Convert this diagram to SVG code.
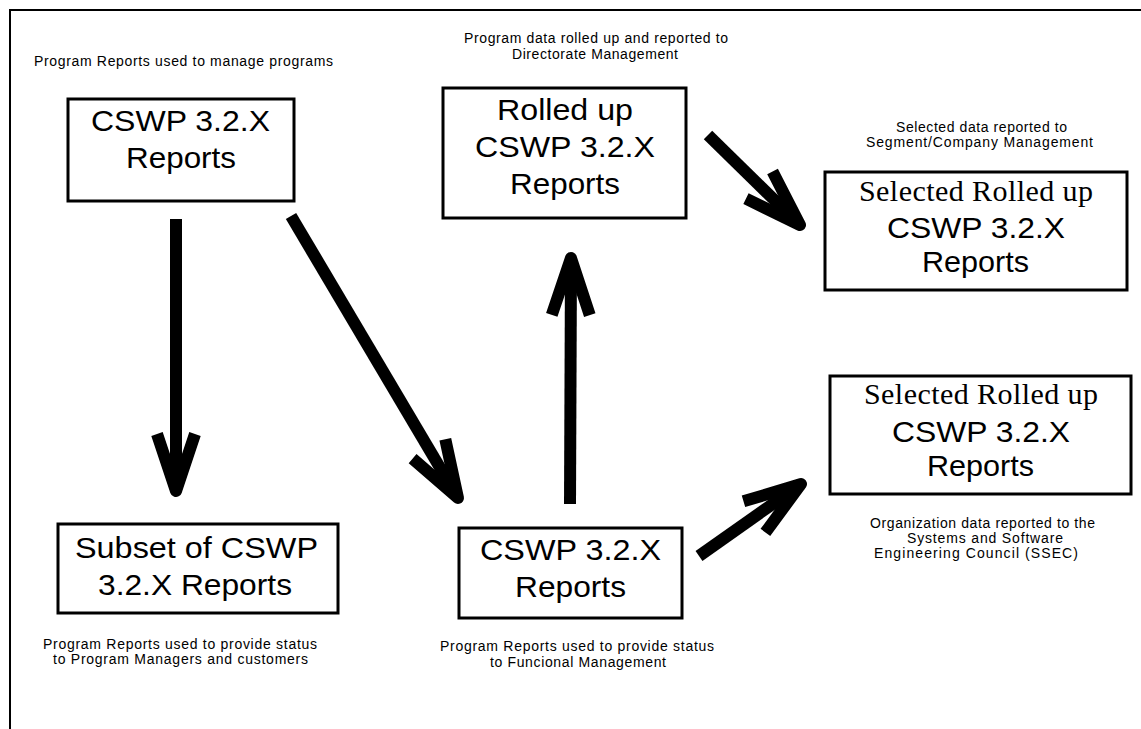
<svg xmlns="http://www.w3.org/2000/svg" width="1141" height="729" viewBox="0 0 1141 729">
<style>
.box{fill:#fff;stroke:#000;stroke-width:3}
.big{font-family:"Liberation Sans",Arial,sans-serif;font-size:30px;fill:#000}
.ser{font-family:"Liberation Serif","Times New Roman",serif;font-size:30px;fill:#000}
.lbl{font-family:"Liberation Sans",Arial,sans-serif;font-size:14px;fill:#000}
.arr{stroke:#000;stroke-width:12;fill:none;marker-end:url(#ah)}
.frame{stroke:#000;stroke-width:2;fill:none}
</style>
<defs>
<marker id="ah" markerUnits="userSpaceOnUse" orient="auto" refX="0" refY="0" markerWidth="80" markerHeight="80" viewBox="-70 -40 80 80" overflow="visible">
<path d="M-57,-19 L0,0 L-57,19" fill="none" stroke="#000" stroke-width="12" stroke-linejoin="round"/>
</marker>
</defs>
<rect width="1141" height="729" fill="#fff"/>
<path class="frame" d="M10,729 L10,10 L1141,10"/>

<g id="connectors">
<line class="arr" x1="176" y1="219" x2="176" y2="491"/>
<line class="arr" x1="291" y1="216" x2="458" y2="498"/>
<line class="arr" x1="570" y1="504" x2="571" y2="258"/>
<line class="arr" x1="708" y1="135" x2="800" y2="225"/>
<line class="arr" x1="699" y1="556" x2="801" y2="484"/>
</g>

<g id="labels">
<text class="lbl" x="34" y="66" textLength="299" lengthAdjust="spacing">Program Reports used to manage programs</text>
<text class="lbl" x="464" y="43" textLength="264" lengthAdjust="spacing">Program data rolled up and reported to</text>
<text class="lbl" x="512" y="59" textLength="166" lengthAdjust="spacing">Directorate Management</text>
<text class="lbl" x="896" y="132" textLength="171" lengthAdjust="spacing">Selected data reported to</text>
<text class="lbl" x="866" y="147" textLength="227" lengthAdjust="spacing">Segment/Company Management</text>
<text class="lbl" x="43" y="649" textLength="274" lengthAdjust="spacing">Program Reports used to provide status</text>
<text class="lbl" x="53" y="664" textLength="255" lengthAdjust="spacing">to Program Managers and customers</text>
<text class="lbl" x="440" y="651" textLength="274" lengthAdjust="spacing">Program Reports used to provide status</text>
<text class="lbl" x="490" y="667" textLength="176" lengthAdjust="spacing">to Funcional Management</text>
<text class="lbl" x="870" y="528" textLength="225" lengthAdjust="spacing">Organization data reported to the</text>
<text class="lbl" x="907" y="543" textLength="156" lengthAdjust="spacing">Systems and Software</text>
<text class="lbl" x="874" y="558" textLength="204" lengthAdjust="spacing">Engineering Council (SSEC)</text>
</g>

<g id="node-cswp-program">
<rect class="box" x="68" y="99" width="226" height="102"/>
<text class="big" x="91" y="131" textLength="179" lengthAdjust="spacingAndGlyphs">CSWP 3.2.X</text>
<text class="big" x="126" y="168" textLength="110" lengthAdjust="spacingAndGlyphs">Reports</text>
</g>

<g id="node-rolled-up">
<rect class="box" x="443" y="88" width="243" height="130"/>
<text class="big" x="497" y="120" textLength="136" lengthAdjust="spacingAndGlyphs">Rolled up</text>
<text class="big" x="475" y="157" textLength="180" lengthAdjust="spacingAndGlyphs">CSWP 3.2.X</text>
<text class="big" x="510" y="194" textLength="110" lengthAdjust="spacingAndGlyphs">Reports</text>
</g>

<g id="node-selected-segment">
<rect class="box" x="825" y="172" width="302" height="118"/>
<text class="ser" x="859" y="201" textLength="234" lengthAdjust="spacing">Selected Rolled up</text>
<text class="big" x="887" y="238" textLength="178" lengthAdjust="spacingAndGlyphs">CSWP 3.2.X</text>
<text class="big" x="922" y="272" textLength="107" lengthAdjust="spacingAndGlyphs">Reports</text>
</g>

<g id="node-selected-ssec">
<rect class="box" x="830" y="376" width="301" height="118"/>
<text class="ser" x="864" y="404" textLength="234" lengthAdjust="spacing">Selected Rolled up</text>
<text class="big" x="892" y="442" textLength="178" lengthAdjust="spacingAndGlyphs">CSWP 3.2.X</text>
<text class="big" x="927" y="476" textLength="107" lengthAdjust="spacingAndGlyphs">Reports</text>
</g>

<g id="node-subset">
<rect class="box" x="58" y="524" width="280" height="89"/>
<text class="big" x="75" y="558" textLength="243" lengthAdjust="spacingAndGlyphs">Subset of CSWP</text>
<text class="big" x="98" y="595" textLength="194" lengthAdjust="spacingAndGlyphs">3.2.X Reports</text>
</g>

<g id="node-cswp-functional">
<rect class="box" x="459" y="528" width="223" height="90"/>
<text class="big" x="480" y="560" textLength="181" lengthAdjust="spacingAndGlyphs">CSWP 3.2.X</text>
<text class="big" x="515" y="597" textLength="111" lengthAdjust="spacingAndGlyphs">Reports</text>
</g>
</svg>
